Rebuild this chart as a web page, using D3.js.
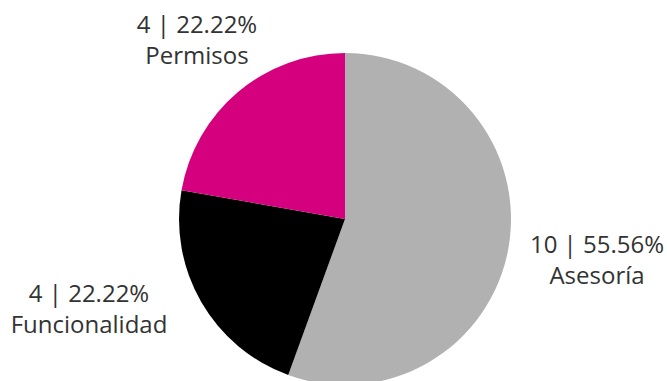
<!DOCTYPE html>
<html>
<head>
<meta charset="utf-8">
<script src="https://cdn.jsdelivr.net/npm/d3@7"></script>
<style>
  html, body { margin: 0; padding: 0; background: #fff; }
  svg { display: block; }
  text { font-family: "Open Sans", sans-serif; fill: #333; }
</style>
</head>
<body>
<svg id="chart" width="667" height="381"></svg>
<script>
const categories = ["Asesoría", "Funcionalidad", "Permisos"];
const values = [10, 4, 4];
const colors = ["#b1b1b1", "#000000", "#d5007d"];
const labelAnchors = [[597, 253], [89, 302], [197, 33]];

const W = 667, H = 381;
const cx = 345, cy = 219, R = 166;
const total = d3.sum(values);
const data = categories.map((c, i) => ({ name: c, value: values[i], color: colors[i], anchor: labelAnchors[i] }));

const svg = d3.select("#chart");
const pie = d3.pie().sort(null).value(d => d.value);
const arc = d3.arc().innerRadius(0).outerRadius(R);

const g = svg.append("g").attr("transform", `translate(${cx},${cy})`);
g.selectAll("path")
  .data(pie(data))
  .join("path")
  .attr("d", arc)
  .attr("fill", d => d.data.color);

const fmt = d3.format(".2f");
const labels = svg.append("g").selectAll("text")
  .data(data)
  .join("text")
  .attr("text-anchor", "middle")
  .attr("font-size", 24)
  .attr("transform", d => `translate(${d.anchor[0]},${d.anchor[1]})`);
labels.append("tspan").attr("x", 0).attr("y", 0)
  .text(d => `${d.value} | ${fmt(d.value / total * 100)}%`);
labels.append("tspan").attr("x", 0).attr("y", 31)
  .text(d => d.name);
</script>
</body>
</html>
